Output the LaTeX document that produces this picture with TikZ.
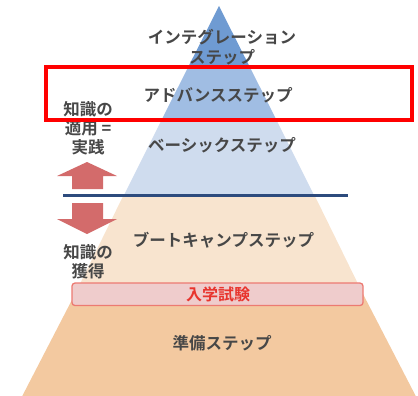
\documentclass[tikz,border=0pt]{standalone}
\usepackage{fontspec}
\newfontfamily\jp{Noto Sans CJK JP}[BoldFont={* Bold}]
\definecolor{bluedark}{HTML}{6F9BD2}
\definecolor{bluemid}{HTML}{A0BDE3}
\definecolor{bluelight}{HTML}{CFDCEE}
\definecolor{orlight}{HTML}{F8E4CF}
\definecolor{ordark}{HTML}{F3C9A0}
\definecolor{arrowred}{HTML}{D36B6B}
\definecolor{navy}{HTML}{2D4B7D}
\definecolor{exfill}{HTML}{EFCCCC}
\definecolor{exborder}{HTML}{EC7A72}
\definecolor{extext}{HTML}{E8352E}
\definecolor{txt}{HTML}{474747}
\tikzset{
  lbl/.style={font=\jp\bfseries\fontsize{16.5}{20}\selectfont, text=txt, inner sep=0pt, align=center},
  sidelbl/.style={font=\jp\bfseries\fontsize{16.5}{19}\selectfont, text=txt, inner sep=0pt, align=center},
}
\begin{document}
\begin{tikzpicture}[x=1pt,y=-1pt]
\useasboundingbox (0,0) rectangle (418,396);
% big orange triangle parts (apex 219,6 ; slope 0.5045 per px)
\coordinate (apex) at (219,6);
\fill[orlight] (124.1,194) -- (313.9,194) -- (363.0,294) -- (75.0,294) -- cycle;
\fill[ordark] (75.0,294) -- (363.0,294) -- (417.8,400) -- (20.2,400) -- cycle;
% blue triangle
\fill[bluedark] (apex) -- (250.3,68) -- (187.7,68) -- cycle;
\fill[bluemid] (187.7,68) -- (250.3,68) -- (276.0,119) -- (162.0,119) -- cycle;
\fill[bluelight] (162.0,119) -- (276.0,119) -- (313.9,195) -- (124.1,195) -- cycle;
% base line
\coordinate (lineL) at (63,195.5);
\coordinate (lineR) at (348,195.5);
\draw[navy, line width=2.6pt] (lineL) -- (lineR);
% arrows
\fill[arrowred] (72,189) -- (72,176) -- (57,176) -- (87,162) -- (117,176) -- (103,176) -- (103,189) -- cycle;
\fill[arrowred] (72,203) -- (72,219) -- (57,219) -- (87,234) -- (117,219) -- (103,219) -- (103,203) -- cycle;
% exam box
\node[draw=exborder, fill=exfill, line width=1.3pt, rounded corners=3pt, minimum width=291pt, minimum height=22.5pt, inner sep=0pt] (exam) at (217.5,294.3) {};
\node[font=\jp\bfseries\fontsize{16}{20}\selectfont, text=extext, inner sep=0pt] (examt) at (218,294.5) {入学試験};
% labels
\node[lbl] (integ) at (222,47) {インテグレーション\\ステップ};
\node[lbl] (adv) at (218,95) {アドバンスステップ};
\node[lbl] (basic) at (222,145) {ベーシックステップ};
\node[lbl] (boot) at (223.5,240) {ブートキャンプステップ};
\node[lbl] (prep) at (222,343) {準備ステップ};
\node[sidelbl, align=center] (apply) at (88,128) {知識の\\適用 =\\実践};
\node[sidelbl] (acq) at (88,261.5) {知識の\\獲得};
% red highlight box
\node[draw=red, line width=4pt, minimum width=366pt, minimum height=52pt, inner sep=0pt] (hl) at (229,93.5) {};
\end{tikzpicture}
\end{document}
